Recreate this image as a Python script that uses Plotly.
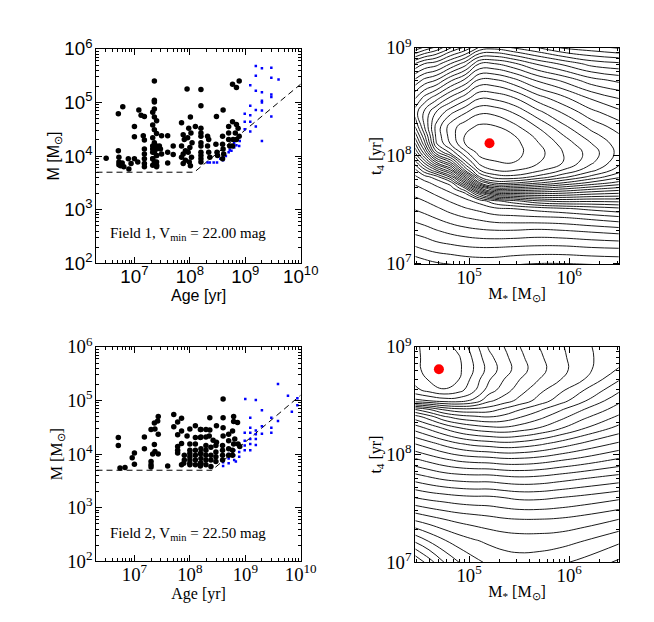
import numpy as np
import plotly.graph_objects as go

# ---------------- left panels: cluster ages and masses (log10 values) ----------------
f1_age = [6.49, 6.71, 6.79, 6.71, 6.72, 6.72, 6.72, 6.75, 6.78, 6.81, 6.90, 6.89, 6.94,
          7.00, 7.00, 7.00, 7.06, 7.08, 7.12, 7.18, 7.16,
          7.18, 7.18, 7.18, 7.18, 7.18, 7.18,
          7.36, 7.36, 7.36,
          7.36, 7.33, 7.36, 7.40, 7.33, 7.36, 7.40, 7.33, 7.36, 7.40, 7.33, 7.36, 7.40, 7.33, 7.36, 7.40,
          7.33, 7.40, 7.33, 7.40, 7.40, 7.33, 7.40, 7.33,
          7.49, 7.60, 7.45, 7.47, 7.49, 7.60, 7.70, 7.60, 7.70,
          7.85, 7.88, 7.90, 7.85, 7.92, 7.88, 7.85, 7.92, 7.88,
          7.95, 8.01, 7.98, 8.02, 7.96, 8.04, 8.00, 7.97, 8.03, 7.99, 8.01, 8.10,
          8.20, 8.20, 8.20, 8.20, 8.20, 8.20, 8.20, 8.20, 8.20, 8.20, 8.20,
          8.32, 8.34, 8.32, 8.34, 8.36, 8.48, 8.47, 8.49, 8.50,
          8.60, 8.59, 8.59, 8.60, 8.61, 8.59, 8.70, 8.70, 8.70, 8.72,
          8.77, 8.89, 8.84, 8.77, 8.84, 8.87, 8.82, 8.89, 8.78, 8.84, 8.77]
f1_mass = [3.96, 4.79, 4.92, 4.10, 3.98, 3.89, 3.84, 3.82, 3.87, 3.80, 3.76, 3.95, 3.86,
           4.55, 4.36, 3.95, 3.89, 4.86, 4.76, 4.74, 4.38,
           4.30, 4.13, 4.04, 3.95, 3.86, 3.80,
           5.40, 5.04, 5.01,
           4.88, 4.82, 4.73, 4.66, 4.58, 4.49, 4.42, 4.34, 4.25, 4.19, 4.13, 4.07, 4.01, 3.95, 3.89, 3.83,
           4.19, 4.13, 3.95, 3.89, 3.80, 3.83, 4.01, 4.07,
           4.38, 4.38, 4.19, 4.13, 4.04, 4.07, 4.19, 3.87, 4.03,
           4.62, 4.40, 4.31, 4.19, 4.10, 4.04, 3.98, 3.92, 3.86,
           5.25, 4.73, 4.52, 4.43, 4.34, 4.25, 4.16, 4.07, 3.98, 3.89, 3.82, 4.55,
           5.24, 4.94, 4.52, 4.43, 4.37, 4.25, 4.19, 4.07, 4.01, 3.95, 3.89,
           4.37, 4.31, 4.19, 4.07, 3.98, 4.74, 4.22, 4.07, 4.01,
           4.86, 4.37, 4.22, 4.13, 4.04, 3.95, 4.55, 4.43, 4.31, 4.19,
           5.34, 5.40, 5.28, 4.64, 4.59, 4.52, 4.43, 4.37, 4.31, 4.31, 4.19]
f1_blue_age = [9.19, 9.30, 9.47, 9.19, 9.47, 9.60, 9.09, 9.19, 9.30, 9.47, 9.47, 9.30, 9.30,
               9.09, 9.19, 9.30, 9.47, 8.99, 9.09, 8.99, 9.09, 9.19, 8.99, 9.09, 9.30,
               8.90, 8.90, 8.89, 8.84, 8.80, 8.72, 8.70, 8.60, 8.49, 8.43, 8.36, 8.32,
               8.60, 8.55, 8.80, 8.65, 8.75]
f1_blue_mass = [5.68, 5.64, 5.65, 5.50, 5.46, 5.43, 5.32, 5.22, 5.19, 5.15, 5.10, 5.03, 5.00,
                4.94, 4.86, 4.85, 4.74, 4.79, 4.76, 4.64, 4.64, 4.55, 4.50, 4.46, 4.28,
                4.37, 4.28, 4.19, 4.20, 4.16, 4.12, 4.07, 3.92, 3.88, 3.88, 3.88, 3.88,
                4.01, 3.95, 4.25, 4.00, 4.10]
f1_limit_age = [2.07e6, 1.2e8, 1e10]
f1_limit_mass = [5000, 5000, 2.2e5]

f2_age = [6.71, 6.71, 6.74, 6.83, 6.96, 7.00, 7.00, 7.18, 7.18,
          7.30, 7.37, 7.36, 7.42, 7.43, 7.43, 7.36, 7.37, 7.33, 7.43, 7.30, 7.30, 7.30,
          7.60, 7.71, 7.71, 7.78, 7.85, 7.78, 7.85, 7.78, 7.78, 7.78, 7.85, 7.85, 7.90, 7.90, 7.89,
          7.95, 8.00, 8.10, 8.10,
          8.00, 8.00, 8.00, 8.00, 8.00, 8.00, 8.00,
          8.10, 8.10, 8.10, 8.10, 8.10,
          8.19, 8.19, 8.19, 8.19, 8.19,
          8.60, 8.36, 8.60, 8.79, 8.79, 8.86, 8.20, 8.29, 8.36, 8.48, 8.60, 8.20, 8.29, 8.35,
          8.42, 8.48, 8.60, 8.70, 8.70, 8.77, 8.81, 8.79, 8.87, 8.90,
          8.20, 8.20, 8.20, 8.20, 8.29, 8.29, 8.29, 8.29, 8.29,
          8.38, 8.38, 8.38, 8.38, 8.47, 8.47, 8.47, 8.47,
          8.59, 8.59, 8.59, 8.59, 8.70, 8.70, 8.77, 8.77]
f2_mass = [4.31, 4.16, 3.74, 3.75, 3.93, 4.02, 3.81, 4.32, 4.10,
           4.46, 4.47, 4.58, 4.62, 4.70, 4.37, 4.18, 4.05, 4.00, 4.00, 3.86, 3.80, 3.76,
           3.78, 4.74, 4.51, 4.60, 4.67, 4.36, 4.43, 4.14, 4.07, 4.02, 4.20, 3.80, 3.98, 3.89, 3.83,
           4.34, 4.47, 4.53, 4.31,
           4.19, 4.07, 4.01, 3.95, 3.89, 3.83, 3.80,
           4.19, 4.07, 3.98, 3.89, 3.80,
           4.46, 4.31, 4.01, 3.83, 3.78,
           5.03, 4.68, 4.68, 4.70, 4.61, 4.59, 4.46, 4.46, 4.45, 4.53, 4.49, 4.32, 4.32, 4.34,
           4.26, 4.22, 4.34, 4.37, 4.25, 4.43, 4.28, 4.19, 4.19, 4.14,
           4.10, 4.01, 3.92, 3.83, 4.16, 4.07, 3.98, 3.89, 3.80,
           4.13, 3.98, 3.89, 3.77, 4.16, 4.04, 3.95, 3.86,
           4.16, 4.07, 3.98, 3.89, 4.10, 3.98, 4.07, 3.98]
f2_blue_age = [9.59, 9.77, 9.84, 9.94, 9.94, 9.00, 9.19, 9.30, 9.09, 9.47, 9.59,
               9.09, 9.19, 9.30, 9.47, 9.47, 8.99, 9.09, 9.19, 9.30, 9.19, 9.19, 9.09,
               8.99, 9.09, 8.99, 8.89, 9.09, 8.99, 8.89, 8.80, 8.89, 8.80, 8.83, 8.70,
               8.70, 8.60, 8.60, 8.70, 8.80]
f2_blue_mass = [5.31, 5.09, 4.79, 5.04, 4.91, 5.03, 5.01, 4.82, 4.68, 4.68, 4.62,
                4.49, 4.44, 4.52, 4.49, 4.40, 4.40, 4.40, 4.37, 4.38, 4.28, 4.17, 4.28,
                4.25, 4.19, 4.16, 4.16, 4.07, 4.07, 4.04, 3.98, 3.95, 3.89, 3.86, 3.92,
                3.83, 3.78, 3.85, 4.00, 4.07]
f2_limit_age = [2.07e6, 2.5e8, 1e10]
f2_limit_mass = [5000, 5000, 1.26e5]

# ---------------- right panels: likelihood contour grids ----------------
grid_logm = [4.46, 4.555, 4.671, 4.816, 4.961, 5.106, 5.252, 5.445, 5.687, 5.929, 6.22, 6.50]

# field 1, rows from top (old) to bottom (young)
f1_grid_logt = [9.01, 8.854, 8.701, 8.539, 8.404, 8.27, 8.18, 8.108, 8.027, 7.937, 7.865,
                7.802, 7.748, 7.695, 7.641, 7.578, 7.506, 7.416, 7.299, 7.146, 6.98]
f1_levels = [
    [22.0, 21.0, 20.0, 18.2, 17.0, 15.0, 14.6, 15.3, 16.2, 17.3, 17.8, 18.3],
    [17.0, 16.0, 15.5, 14.0, 12.5, 10.0, 10.0, 10.8, 12.2, 13.2, 14.4, 14.8],
    [13.8, 12.7, 12.0, 10.2, 8.8, 6.8, 6.85, 7.7, 9.2, 10.2, 11.6, 12.3],
    [11.15, 9.7, 8.5, 6.85, 5.5, 4.15, 4.3, 5.0, 6.6, 7.75, 9.2, 10.1],
    [9.5, 7.8, 6.0, 4.3, 3.15, 2.2, 2.3, 3.1, 4.7, 6.1, 7.7, 8.75],
    [11.0, 8.0, 4.7, 2.5, 1.4, 0.8, 0.9, 1.7, 3.1, 4.7, 6.35, 7.5],
    [12.7, 9.25, 4.8, 2.55, 0.92, 0.35, 0.35, 0.9, 2.3, 3.85, 5.55, 6.85],
    [14.2, 10.4, 5.15, 2.95, 1.0, 0.12, 0.05, 0.6, 1.9, 3.3, 4.95, 6.5],
    [16.0, 12.5, 7.4, 4.75, 2.3, 0.6, 0.45, 0.6, 1.6, 2.95, 4.45, 6.35],
    [18.5, 15.7, 12.0, 9.0, 4.25, 1.6, 1.1, 1.0, 1.9, 2.95, 4.8, 6.7],
    [20.3, 18.3, 16.0, 13.0, 6.8, 3.0, 2.0, 1.9, 2.7, 4.0, 5.65, 7.5],
    [21.2, 20.4, 19.5, 16.7, 10.9, 5.0, 3.55, 3.3, 4.3, 5.6, 7.3, 8.8],
    [21.8, 21.3, 20.6, 19.5, 14.5, 8.0, 5.6, 5.75, 6.75, 7.9, 9.2, 10.3],
    [22.3, 21.9, 21.3, 20.5, 18.1, 12.4, 9.4, 9.4, 10.0, 10.7, 11.6, 12.3],
    [22.8, 22.4, 21.9, 21.2, 20.4, 16.8, 14.0, 13.5, 13.3, 13.45, 14.0, 14.3],
    [23.3, 23.0, 22.5, 21.9, 21.3, 20.6, 19.3, 18.3, 17.1, 16.7, 16.8, 16.7],
    [23.9, 23.6, 23.2, 22.6, 22.1, 21.7, 21.25, 21.0, 20.6, 20.2, 19.7, 19.25],
    [24.7, 24.4, 24.0, 23.5, 23.1, 22.8, 22.5, 22.4, 22.3, 22.2, 21.8, 21.4],
    [25.7, 25.5, 25.1, 24.7, 24.4, 24.2, 24.1, 24.1, 24.25, 24.1, 23.85, 23.6],
    [27.1, 26.8, 26.5, 26.3, 26.1, 26.0, 26.0, 26.1, 26.2, 26.2, 26.0, 25.9],
    [28.9, 28.6, 28.3, 28.1, 27.9, 27.8, 27.8, 28.05, 28.2, 28.2, 28.1, 28.0],
]
f1_best_mass = 1.6e5
f1_best_age = 1.3e8

f2_grid_logm = [4.46, 4.6, 4.75, 4.9, 5.05, 5.2, 5.35, 5.5, 5.7, 5.9, 6.15, 6.50]
f2_grid_logt = [9.0, 8.9, 8.79, 8.7, 8.6, 8.5, 8.42, 8.35, 8.25, 8.1, 7.95, 7.8, 7.6, 7.4, 7.2, 7.0]
f2_levels = [
    [1.1, 0.8, 0.6, 1.3, 2.5, 4.15, 5.0, 5.95, 7.0, 7.8, 8.8, 9.7],
    [1.2, 0.7, 0.4, 0.9, 2.2, 3.7, 4.7, 5.7, 6.8, 7.7, 8.7, 9.8],
    [1.3, 0.6, 0.1, 0.8, 2.05, 3.4, 4.5, 5.5, 6.65, 7.6, 8.7, 10.05],
    [1.6, 0.9, 0.6, 1.0, 2.4, 3.9, 5.0, 5.95, 7.0, 7.9, 9.0, 10.9],
    [2.3, 1.6, 1.05, 1.6, 2.8, 4.5, 5.5, 6.5, 7.7, 8.7, 10.0, 11.8],
    [4.3, 4.0, 3.6, 3.6, 4.3, 5.8, 6.5, 7.3, 8.4, 9.5, 10.9, 12.8],
    [10.0, 9.0, 7.8, 7.3, 7.3, 7.5, 8.2, 8.9, 9.8, 10.8, 12.0, 13.5],
    [12.5, 11.5, 10.2, 9.5, 9.2, 9.0, 9.3, 9.9, 10.7, 11.6, 12.8, 14.2],
    [14.5, 13.7, 12.8, 12.0, 11.5, 11.2, 11.1, 11.4, 12.0, 12.8, 13.9, 15.3],
    [17.0, 16.4, 15.7, 15.1, 14.7, 14.5, 14.3, 14.4, 14.8, 15.4, 16.2, 17.2],
    [19.2, 18.7, 18.2, 17.8, 17.6, 17.5, 17.3, 17.3, 17.5, 17.9, 18.4, 19.2],
    [21.3, 20.9, 20.5, 20.3, 20.2, 20.2, 20.0, 19.9, 20.0, 20.3, 20.7, 21.2],
    [24.0, 23.7, 23.5, 23.3, 23.2, 23.2, 23.0, 22.8, 22.8, 23.0, 23.3, 23.8],
    [26.8, 26.4, 26.0, 25.7, 25.5, 25.3, 25.1, 25.0, 25.0, 25.1, 25.4, 26.0],
    [29.8, 28.9, 28.1, 27.5, 27.1, 26.8, 26.6, 26.5, 26.5, 26.6, 27.0, 27.8],
    [33.0, 31.5, 30.0, 29.0, 28.3, 27.8, 27.5, 27.4, 27.5, 27.8, 28.3, 29.2],
]
f2_best_mass = 5.0e4
f2_best_age = 6.2e8

SERIF = "Liberation Serif"
SANS = "Liberation Sans"

fig = go.Figure()


def add_cluster_panel(xa, ya, age, mass, bage, bmass, lim_age, lim_mass):
    fig.add_trace(go.Scatter(x=lim_age, y=lim_mass, mode="lines", xaxis=xa, yaxis=ya,
                             line=dict(color="black", width=1, dash="6px,4px"), showlegend=False))
    fig.add_trace(go.Scatter(x=10 ** np.array(bage), y=10 ** np.array(bmass), mode="markers",
                             xaxis=xa, yaxis=ya, showlegend=False,
                             marker=dict(color="#0000ff", size=2.5, symbol="square")))
    fig.add_trace(go.Scatter(x=10 ** np.array(age), y=10 ** np.array(mass), mode="markers",
                             xaxis=xa, yaxis=ya, showlegend=False,
                             marker=dict(color="black", size=5.5)))


def add_contour_panel(xa, ya, logm, logt, levels, best_m, best_t):
    fig.add_trace(go.Contour(x=10 ** np.array(logm), y=10 ** np.array(logt[::-1]),
                             z=levels[::-1], xaxis=xa, yaxis=ya, showscale=False,
                             contours=dict(coloring="lines", start=1, end=40, size=1),
                             colorscale=[[0, "black"], [1, "black"]],
                             line=dict(width=0.9, smoothing=1.3), hoverinfo="skip"))
    fig.add_trace(go.Scatter(x=[best_m], y=[best_t], mode="markers", xaxis=xa, yaxis=ya,
                             showlegend=False, marker=dict(color="red", size=10)))


add_cluster_panel("x", "y", f1_age, f1_mass, f1_blue_age, f1_blue_mass, f1_limit_age, f1_limit_mass)
add_cluster_panel("x3", "y3", f2_age, f2_mass, f2_blue_age, f2_blue_mass, f2_limit_age, f2_limit_mass)
add_contour_panel("x2", "y2", grid_logm, f1_grid_logt, f1_levels, f1_best_mass, f1_best_age)
add_contour_panel("x4", "y4", f2_grid_logm, f2_grid_logt, f2_levels, f2_best_mass, f2_best_age)


def log_axis(domain, rng, anchor, title, font, label_gap=0):
    return dict(type="log", domain=domain, range=rng, anchor=anchor,
                showline=True, linecolor="black", linewidth=1, mirror="allticks",
                ticks="inside", ticklen=6, tickcolor="black", dtick=1,
                exponentformat="power", showgrid=False, zeroline=False,
                ticklabelstandoff=label_gap,
                minor=dict(ticks="inside", ticklen=3, dtick="D1", tickcolor="black", showgrid=False),
                tickfont=dict(family=font, size=15, color="black"),
                title=dict(text=title, font=dict(family=font, size=16, color="black"), standoff=0))


W, H = 654, 622
xl = [91 / W, 301 / W]
xr = [419 / W, 628 / W]
yt_l = [1 - 252 / H, 1 - 29 / H]
yb_l = [1 - 562 / H, 1 - 339 / H]
yt_r = [1 - 253 / H, 1 - 28 / H]
yb_r = [1 - 563 / H, 1 - 339 / H]

fig.update_layout(
    width=W, height=H, margin=dict(l=0, r=0, t=0, b=0),
    paper_bgcolor="white", plot_bgcolor="white", showlegend=False,
    font=dict(family=SERIF, color="black"),
    xaxis=log_axis(xl, [6.316, 10], "y", "Age [yr]", SANS, -3),
    yaxis=log_axis(yt_l, [2, 6], "x", "M [M<sub>⊙</sub>]", SANS),
    xaxis3=log_axis(xl, [6.316, 10], "y3", "Age [yr]", SERIF, -3),
    yaxis3=log_axis(yb_l, [2, 6], "x3", "M [M<sub>⊙</sub>]", SERIF),
    xaxis2=log_axis(xr, [4.465, 6.494], "y2", "M<sub>*</sub> [M<sub>⊙</sub>]", SERIF, -3),
    yaxis2=log_axis(yt_r, [6.99, 9.0], "x2", "t<sub>4</sub> [yr]", SERIF),
    xaxis4=log_axis(xr, [4.465, 6.494], "y4", "M<sub>*</sub> [M<sub>⊙</sub>]", SERIF, -3),
    yaxis4=log_axis(yb_r, [7.0, 9.0], "x4", "t<sub>4</sub> [yr]", SERIF),
)

fig.add_annotation(x=185 / W, y=1 - 222 / H, xref="paper", yref="paper", showarrow=False,
                   xanchor="center", yanchor="middle",
                   text="Field 1, V<sub>min</sub> = 22.00 mag",
                   font=dict(family=SERIF, size=15, color="black"))
fig.add_annotation(x=185 / W, y=1 - 534 / H, xref="paper", yref="paper", showarrow=False,
                   xanchor="center", yanchor="middle",
                   text="Field 2, V<sub>min</sub> = 22.50 mag",
                   font=dict(family=SERIF, size=15, color="black"))

fig.write_html("out.html")
